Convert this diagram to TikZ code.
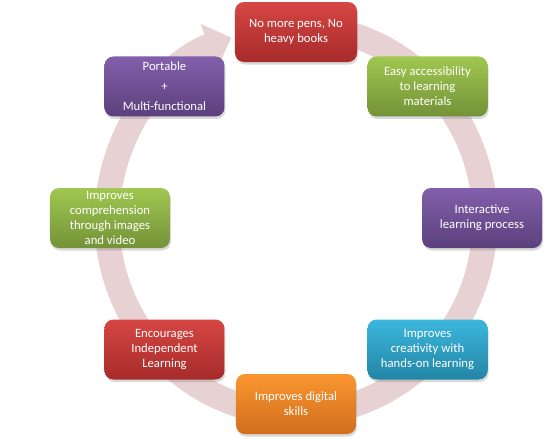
\documentclass[tikz,border=0pt]{standalone}
\usepackage{fontspec}
\setmainfont{Carlito}
\usepackage{xcolor}
\usepackage{tikz}
\usetikzlibrary{arrows.meta, shadows}

\definecolor{ringpink}{RGB}{232,209,211}
\definecolor{redtop}{RGB}{214,70,68}
\definecolor{redbot}{RGB}{166,43,42}
\definecolor{greentop}{RGB}{160,199,80}
\definecolor{greenbot}{RGB}{116,146,56}
\definecolor{purpletop}{RGB}{130,95,171}
\definecolor{purplebot}{RGB}{92,64,124}
\definecolor{cyantop}{RGB}{60,182,220}
\definecolor{cyanbot}{RGB}{34,134,166}
\definecolor{orangetop}{RGB}{250,150,48}
\definecolor{orangebot}{RGB}{208,110,30}

\begin{document}
\begin{tikzpicture}[
    x=1pt, y=1pt,
    card/.style={rectangle, rounded corners=9pt,
                 minimum height=60pt, minimum width=120pt,
                 text=white, align=center, inner sep=2pt,
                 font=\fontsize{12.7}{15}\selectfont,
                 drop shadow={shadow xshift=1pt, shadow yshift=-2.5pt, opacity=0.3}},
    redcard/.style={card, top color=redtop, bottom color=redbot},
    greencard/.style={card, top color=greentop, bottom color=greenbot},
    purplecard/.style={card, top color=purpletop, bottom color=purplebot},
    cyancard/.style={card, top color=cyantop, bottom color=cyanbot},
    orangecard/.style={card, top color=orangetop, bottom color=orangebot},
    ring/.style={line width=25pt, draw=ringpink,
                 -{Triangle[width=46pt, length=24pt]}}
]
    \useasboundingbox (-296,-222) rectangle (250,218);

    % cycle ring behind the cards
    \coordinate (hub) at (0,-2);
    \draw[ring] (hub) ++(80:189 and 194)
        arc[start angle=80, end angle=-250, x radius=189, y radius=194];

    \node[redcard, minimum width=122pt] (pens) at (90:186) {No more pens, No\\heavy books};
    \node[greencard] (access) at (45:186) {Easy accessibility\\to learning\\materials};
    \node[purplecard] (interact) at (0:186) {Interactive\\learning process};
    \node[cyancard] (creative) at (-45:186) {Improves\\creativity with\\hands-on learning};
    \node[orangecard] (digital) at (-90:186) {Improves digital\\skills};
    \node[redcard] (indep) at (-135:186) {Encourages\\Independent\\Learning};
    \node[greencard] (compre) at (180:186) {Improves\\comprehension\\through images\\and video};
    \node[purplecard] (portable) at (135:186) {Portable\\[5pt]+\\[5pt]Multi-functional};
\end{tikzpicture}
\end{document}
